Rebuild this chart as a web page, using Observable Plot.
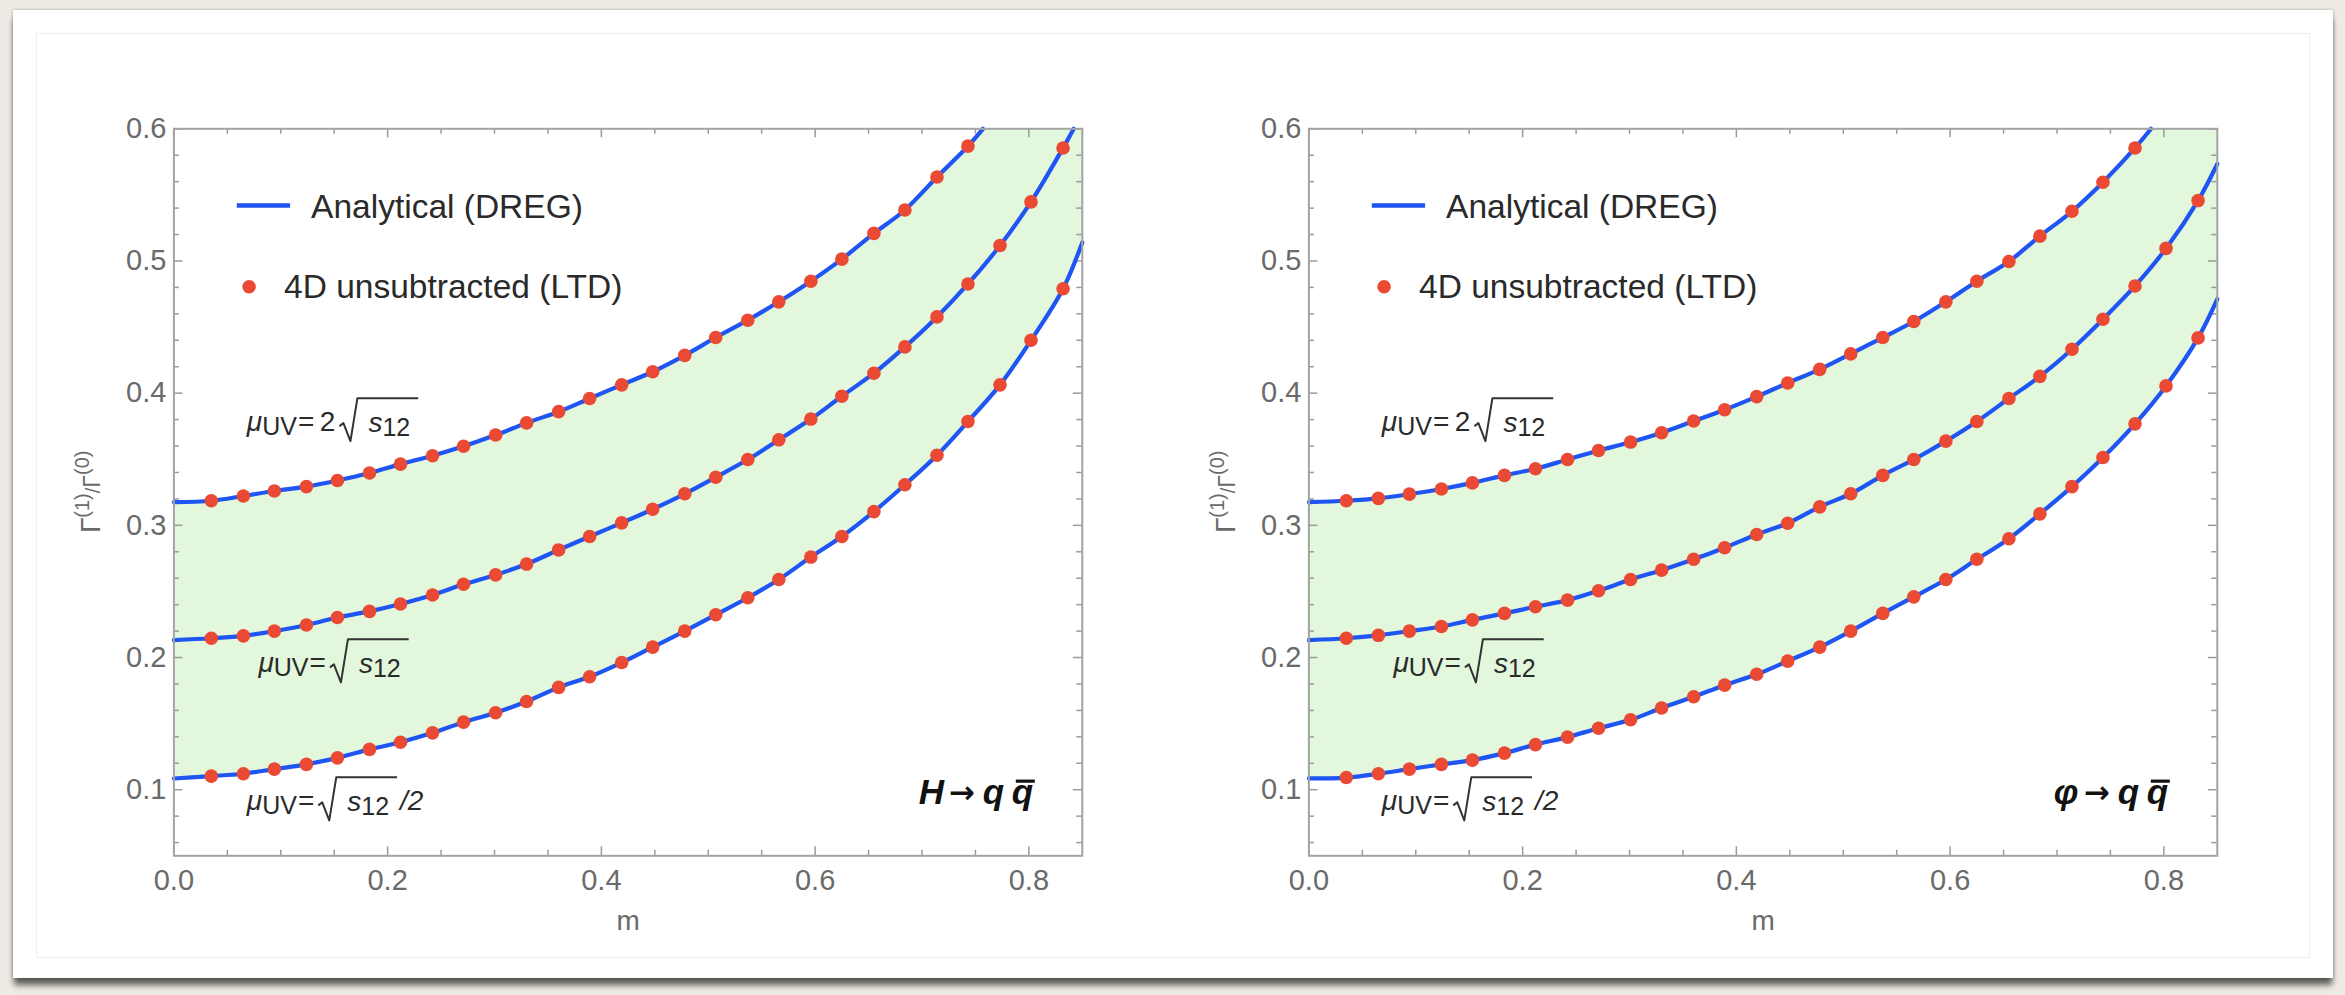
<!DOCTYPE html>
<html><head><meta charset="utf-8">
<script src="https://cdn.jsdelivr.net/npm/d3@7"></script>
<script src="https://cdn.jsdelivr.net/npm/@observablehq/plot@0.6"></script>
<style>
html,body{margin:0;padding:0;background:#eeebe4;width:2345px;height:995px;overflow:hidden;font-family:"Liberation Sans",Arial,sans-serif}
#card{position:absolute;left:13px;top:10px;width:2320px;height:968px;background:#fff;box-shadow:0 8px 6px -1px rgba(0,0,0,0.6),0 0 3px rgba(0,0,0,0.3)}
#inner{position:absolute;left:36px;top:33px;width:2274px;height:925px;border:1px solid #eeeeee;box-sizing:border-box}
.panel{position:absolute;top:0}
</style></head><body>
<div id="card"></div><div id="inner"></div>
<div id="p1" class="panel" style="left:0px"></div>
<div id="p2" class="panel" style="left:1135px"></div>
<script>
// ---------- data ----------
const mGrid = [0.035,0.065,0.094,0.124,0.153,0.183,0.212,0.242,0.271,0.301,0.330,0.360,0.389,0.419,
               0.448,0.478,0.507,0.537,0.566,0.596,0.625,0.655,0.684,0.714,0.743,0.773,0.802,0.832];

// H -> q qbar panel
const hUpper  = [0.3186,0.3222,0.3260,0.3293,0.3339,0.3396,0.3463,0.3527,0.3598,0.3683,0.3775,0.3860,0.3960,0.4063,
                 0.4162,0.4286,0.4421,0.4552,0.4691,0.4847,0.5014,0.5209,0.5386,0.5635,0.5869];
const hMiddle = [0.2146,0.2164,0.2200,0.2246,0.2303,0.2349,0.2405,0.2473,0.2554,0.2625,0.2707,0.2814,0.2916,0.3019,
                 0.3122,0.3239,0.3364,0.3498,0.3647,0.3804,0.3977,0.4151,0.4350,0.4577,0.4826,0.5117,0.5447,0.5855];
const hLower  = [0.1103,0.1121,0.1156,0.1192,0.1241,0.1305,0.1359,0.1430,0.1511,0.1582,0.1667,0.1774,0.1855,0.1962,
                 0.2079,0.2200,0.2324,0.2452,0.2590,0.2760,0.2916,0.3104,0.3307,0.3530,0.3786,0.4063,0.4400,0.4790];
const hStartY = [0.3175, 0.2132, 0.1085];      // analytical curves at m = 0
const hEndM   = [0.757, 0.842, 0.85];          // where each analytical curve leaves the frame
const hEndY   = [0.6, 0.6, 0.514];

// phi -> q qbar panel
const pUpper  = [0.3186,0.3204,0.3236,0.3275,0.3321,0.3378,0.3428,0.3498,0.3566,0.3630,0.3701,0.3789,0.3875,0.3974,
                 0.4077,0.4180,0.4297,0.4421,0.4542,0.4691,0.4847,0.4996,0.5188,0.5376,0.5596,0.5855];
const pMiddle = [0.2146,0.2168,0.2200,0.2235,0.2285,0.2334,0.2384,0.2434,0.2505,0.2590,0.2661,0.2743,0.2831,0.2931,
                 0.3016,0.3140,0.3239,0.3378,0.3498,0.3637,0.3786,0.3960,0.4127,0.4332,0.4559,0.4811,0.5095,0.5457];
const pLower  = [0.1092,0.1121,0.1156,0.1192,0.1224,0.1277,0.1341,0.1398,0.1465,0.1529,0.1618,0.1703,0.1791,0.1873,
                 0.1973,0.2079,0.2200,0.2334,0.2459,0.2590,0.2743,0.2899,0.3087,0.3293,0.3513,0.3768,0.4055,0.4418];
const pStartY = [0.3175, 0.2132, 0.1085];
const pEndM   = [0.788, 0.85, 0.85];
const pEndY   = [0.6, 0.5734, 0.4712];

// ticks
const xMajor = [0, 0.2, 0.4, 0.6, 0.8];
const xMinor = [0.05,0.1,0.15,0.25,0.3,0.35,0.45,0.5,0.55,0.65,0.7,0.75];
const yMajor = [0.1, 0.2, 0.3, 0.4, 0.5, 0.6];
const yMinor = [0.06,0.08,0.12,0.14,0.16,0.18,0.22,0.24,0.26,0.28,0.32,0.34,0.36,0.38,0.42,0.44,0.46,0.48,0.52,0.54,0.56,0.58];

// texts
const legendTexts = ["Analytical (DREG)", "4D unsubtracted (LTD)"];
const curveLabelPrefix = ["=2", "=", "="];
const curveLabelSuffix = ["", "", "/2"];
const curveLabelM = [0.0687, 0.0796, 0.0687];
const curveLabelY = [0.3709, 0.1884, 0.0840];
const titles = ["H", "φ"];
const titleM = 0.6975, titleY = 0.0887;

// ---------- drawing ----------
const FONT = '"Liberation Sans", Arial, Helvetica, sans-serif';
const BLUE = "#1f55f2", RED = "#ea4a34", GREEN = "#e2f7dc", TICK = "#9a9a9a";
const CURVE = "catmull-rom";

function series(ys, y0, mEnd, yEnd) {
  const pts = ys.map((y, i) => ({m: mGrid[i], y}));
  return {pts, line: [{m: 0, y: y0}, ...pts, {m: mEnd, y: yEnd}]};
}

function radicalLabel(g, X, Y, prefix, suffix) {
  const t = g.append("text").attr("x", X).attr("y", Y).attr("font-size", 28);
  t.append("tspan").attr("font-style", "italic").text("μ");
  t.append("tspan").attr("font-size", 25).attr("dy", 4).text("UV");
  t.append("tspan").attr("dy", -4).attr("dx", 1).text(prefix.split("").join("\u2009"));
  const w1 = t.node().getComputedTextLength();
  const hx = X + w1 + 5;
  const sx = hx + 29;
  const t2 = g.append("text").attr("x", sx).attr("y", Y + 1).attr("font-size", 28);
  t2.append("tspan").attr("font-style", "italic").text("s");
  t2.append("tspan").attr("font-size", 25).attr("dy", 4).text("12");
  const w2 = t2.node().getComputedTextLength();
  const bx = sx + w2 + 8;
  g.append("path")
    .attr("d", `M${hx},${Y - 5}L${hx + 4},${Y - 8}L${hx + 11},${Y + 10}L${hx + 18},${Y - 33}H${bx}`)
    .attr("fill", "none").attr("stroke", "#333").attr("stroke-width", 2).attr("stroke-linejoin", "round");
  if (suffix) g.append("text").attr("x", bx + 3).attr("y", Y).attr("font-size", 28).attr("font-style", "italic").text(suffix);
}

function drawPanel(container, cfg) {
  const W = 1150, H = 995, mL = 173.4, mR = 68.2, mT = 128.3, mB = 139.7;
  const fw = W - mL - mR, fh = H - mT - mB;
  const s = [0, 1, 2].map(k => series(cfg.ys[k], cfg.startY[k], cfg.endM[k], cfg.endY[k]));
  const svg = Plot.plot({
    width: W, height: H, marginLeft: mL, marginRight: mR, marginTop: mT, marginBottom: mB,
    x: {domain: [0, 0.85]},
    y: {domain: [0.05, 0.6]},
    style: {fontFamily: FONT, fontSize: "29px", color: "#6a6a6a", background: "transparent", overflow: "visible"},
    marks: [
      Plot.areaY(s[2].line, {x: "m", y1: "y", y2: 0.6, fill: GREEN, curve: CURVE}),
      Plot.areaY(s[0].line, {x: "m", y1: "y", y2: 0.6, fill: "white", curve: CURVE}),
      Plot.ruleY(yMajor, {stroke: TICK, strokeWidth: 1.5, insetRight: fw - 9}),
      Plot.ruleY(yMajor, {stroke: TICK, strokeWidth: 1.5, insetLeft: fw - 9}),
      Plot.ruleY(yMinor, {stroke: TICK, strokeWidth: 1.5, insetRight: fw - 5.5}),
      Plot.ruleY(yMinor, {stroke: TICK, strokeWidth: 1.5, insetLeft: fw - 5.5}),
      Plot.ruleX(xMajor, {stroke: TICK, strokeWidth: 1.5, insetTop: fh - 9}),
      Plot.ruleX(xMajor, {stroke: TICK, strokeWidth: 1.5, insetBottom: fh - 9}),
      Plot.ruleX(xMinor, {stroke: TICK, strokeWidth: 1.5, insetTop: fh - 5.5}),
      Plot.ruleX(xMinor, {stroke: TICK, strokeWidth: 1.5, insetBottom: fh - 5.5}),
      ...s.map(d => Plot.line(d.line, {x: "m", y: "y", stroke: BLUE, strokeWidth: 4.2, curve: CURVE})),
      ...s.map(d => Plot.dot(d.pts, {x: "m", y: "y", r: 6.8, fill: RED, stroke: "none"})),
      Plot.axisX({ticks: xMajor, tickSize: 0, tickPadding: 13.5, tickFormat: d3.format(".1f"), label: null}),
      Plot.axisY({ticks: yMajor, tickSize: 0, tickPadding: 7.5, tickFormat: d3.format(".1f"), label: null}),
      Plot.text(["m"], {frameAnchor: "bottom", dy: 74, fontSize: 28, fill: "#6a6a6a"}),
      Plot.frame({stroke: "#a3a3a3", strokeWidth: 2})
    ]
  });
  container.appendChild(svg);
  const x = svg.scale("x"), y = svg.scale("y");
  const g = d3.select(svg).append("g").attr("font-family", FONT).attr("fill", "#2a2a2a")
    .attr("text-anchor", "start");

  // legend
  g.append("line").attr("x1", mL + 63.4).attr("x2", mL + 116.7).attr("y1", mT + 77.3).attr("y2", mT + 77.3)
    .attr("stroke", BLUE).attr("stroke-width", 4.5);
  g.append("text").attr("x", mL + 137.7).attr("y", mT + 89.7).attr("font-size", 33.5).text(legendTexts[0]);
  g.append("circle").attr("cx", mL + 75.7).attr("cy", mT + 158.5).attr("r", 6.8).attr("fill", RED);
  g.append("text").attr("x", mL + 110.7).attr("y", mT + 169.7).attr("font-size", 33.5).text(legendTexts[1]);

  // curve labels
  for (let k = 0; k < 3; k++) {
    radicalLabel(g, x.apply(curveLabelM[k]), y.apply(curveLabelY[k]), curveLabelPrefix[k], curveLabelSuffix[k]);
  }

  // process title
  const tx = x.apply(titleM), ty = y.apply(titleY);
  const tg = g.append("g").attr("font-size", 35).attr("font-weight", "bold").attr("fill", "#111");
  tg.append("text").attr("x", tx).attr("y", ty).attr("font-style", "italic").text(cfg.title);
  tg.append("text").attr("x", tx + 30).attr("y", ty - 1).attr("font-family", '"DejaVu Sans", sans-serif')
    .attr("font-size", 31).text("→");
  tg.append("text").attr("x", tx + 64).attr("y", ty).attr("font-style", "italic").text("q");
  tg.append("text").attr("x", tx + 93).attr("y", ty).attr("font-style", "italic").text("q");
  tg.append("line").attr("x1", tx + 97).attr("x2", tx + 116).attr("y1", ty - 23).attr("y2", ty - 23)
    .attr("stroke", "#111").attr("stroke-width", 3.2);

  // y axis label
  const yl = g.append("text").attr("transform", `translate(${mL - 73},${mT + fh / 2}) rotate(-90)`)
    .attr("text-anchor", "middle").attr("font-size", 28).attr("fill", "#6a6a6a");
  yl.append("tspan").text("Γ");
  yl.append("tspan").attr("font-size", 20).attr("dy", -11).text("(1)");
  yl.append("tspan").attr("font-size", 20).attr("dy", 11).text("/");
  yl.append("tspan").attr("font-size", 23).text("Γ");
  yl.append("tspan").attr("font-size", 20).attr("dy", -11).text("(0)");
}

drawPanel(document.getElementById("p1"), {
  ys: [hUpper, hMiddle, hLower], startY: hStartY, endM: hEndM, endY: hEndY, title: titles[0]
});
drawPanel(document.getElementById("p2"), {
  ys: [pUpper, pMiddle, pLower], startY: pStartY, endM: pEndM, endY: pEndY, title: titles[1]
});
</script>
</body></html>
